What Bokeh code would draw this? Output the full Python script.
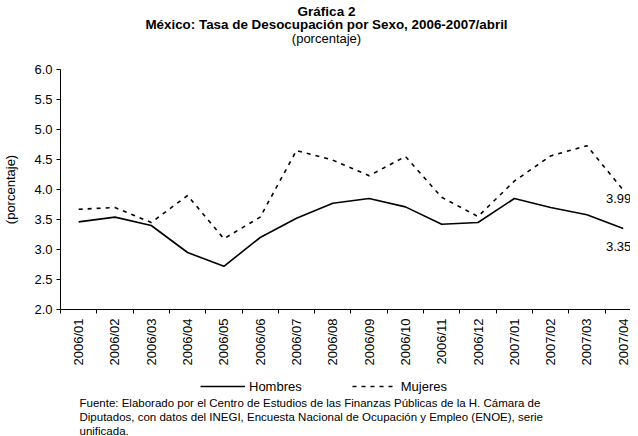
import math
from bokeh.plotting import figure
from bokeh.layouts import column
from bokeh.models import (FixedTicker, PrintfTickFormatter, Label, Legend, LegendItem,
                          ColumnDataSource, Range1d)
from bokeh.embed import file_html
from bokeh.resources import INLINE
from bokeh.core.properties import value

periodos = ["2006/01", "2006/02", "2006/03", "2006/04", "2006/05", "2006/06",
            "2006/07", "2006/08", "2006/09", "2006/10", "2006/11", "2006/12",
            "2007/01", "2007/02", "2007/03", "2007/04"]
hombres = [3.46, 3.54, 3.40, 2.95, 2.72, 3.20, 3.52, 3.77, 3.85, 3.71, 3.42, 3.45,
           3.85, 3.70, 3.58, 3.35]
mujeres = [3.67, 3.70, 3.45, 3.90, 3.18, 3.54, 4.65, 4.49, 4.23, 4.55, 3.87, 3.55,
           4.14, 4.56, 4.73, 3.99]
y_ticks = [2.0, 2.5, 3.0, 3.5, 4.0, 4.5, 5.0, 5.5, 6.0]

titulo1 = "Gráfica 2"
titulo2 = "México: Tasa de Desocupación por Sexo, 2006-2007/abril"
titulo3 = "(porcentaje)"
eje_y = "(porcentaje)"
series = ["Hombres", "Mujeres"]
fuente = ["Fuente: Elaborado por el Centro de Estudios de las Finanzas Públicas  de la H. Cámara de",
          "Diputados, con datos del INEGI, Encuesta Nacional de Ocupación y Empleo (ENOE), serie",
          "unificada."]

FONT = "Liberation Sans"
W = 630
FL = 55  # frame left (frames are aligned across the column)
idx = list(range(len(periodos)))
src = ColumnDataSource(dict(x=idx, h=hombres, m=mujeres))


def blank(height, yr=None):
    f = figure(width=W, height=height, output_backend="svg", toolbar_location=None,
               x_axis_location=None, y_axis_location=None, min_border=0,
               x_range=Range1d(0, W), y_range=yr or Range1d(0, height))
    f.outline_line_color = None
    f.grid.visible = False
    return f


def label(f, txt, cx, y, size, bold=False, align="center"):
    f.add_layout(Label(x=cx - FL, y=y, x_units="screen", y_units="screen", text=txt,
                       text_align=align, text_baseline="middle", text_font=FONT,
                       text_font_size=size, text_font_style="bold" if bold else "normal",
                       text_color="black"))


# ---- titles
HT = 61
top = blank(HT)
label(top, titulo1, 321, HT - 11, "13.5px", bold=True)
label(top, titulo2, 321, HT - 24, "13.4px", bold=True)
label(top, titulo3, 321, HT - 38, "13px")

# ---- main chart
p = figure(width=W, height=307, output_backend="svg", toolbar_location=None,
           x_range=Range1d(-0.5, 15.2), y_range=Range1d(2.0, 6.0),
           min_border_left=FL, min_border_right=0, min_border_top=8, min_border_bottom=59)
p.outline_line_color = None
p.grid.visible = False

p.line("x", "h", source=src, line_color="black", line_width=1.6)
p.line("x", "m", source=src, line_color="black", line_width=1.6, line_dash="4 5")

last = len(periodos) - 1
p.text(x=[last], y=[mujeres[-1]], text=["%.2f" % mujeres[-1]], text_align="right",
       text_baseline="middle", x_offset=8, y_offset=8, text_font=value(FONT),
       text_font_size="13px", text_color="black")
p.text(x=[last], y=[hombres[-1]], text=["%.2f" % hombres[-1]], text_align="right",
       text_baseline="middle", x_offset=8, y_offset=18, text_font=value(FONT),
       text_font_size="13px", text_color="black")

xa = p.xaxis[0]
xa.ticker = FixedTicker(ticks=idx, minor_ticks=[i - 0.5 for i in range(len(periodos) + 1)])
xa.major_label_overrides = {i: s for i, s in zip(idx, periodos)}
xa.major_label_orientation = math.pi / 2
xa.major_tick_line_color = None
xa.major_tick_out = 4
xa.major_tick_in = 0
xa.minor_tick_out = 4
xa.minor_tick_in = 0
xa.minor_tick_line_color = "black"
xa.major_label_standoff = 5
xa.major_label_text_font = FONT
xa.major_label_text_font_size = "13px"
xa.major_label_text_color = "black"
xa.axis_line_color = "black"

ya = p.yaxis[0]
ya.ticker = FixedTicker(ticks=y_ticks, minor_ticks=[])
ya.formatter = PrintfTickFormatter(format="%.1f")
ya.major_tick_out = 4
ya.major_tick_in = 0
ya.major_tick_line_color = "black"
ya.minor_tick_line_color = None
ya.major_label_standoff = 4
ya.major_label_text_font = FONT
ya.major_label_text_font_size = "13px"
ya.major_label_text_color = "black"
ya.axis_line_color = "black"
ya.axis_label = eje_y
ya.axis_label_text_font = FONT
ya.axis_label_text_font_size = "13px"
ya.axis_label_text_font_style = "normal"
ya.axis_label_text_color = "black"
ya.axis_label_standoff = 13

# ---- legend + source note (series drawn out of view, only for the legend keys)
HB = 68
bot = blank(HB, yr=Range1d(50, 50 + HB))
lh = bot.line("x", "h", source=src, line_color="black", line_width=1.6)
lm = bot.line("x", "m", source=src, line_color="black", line_width=1.6, line_dash="4 5")
legend = Legend(items=[LegendItem(label=series[0], renderers=[lh]),
                       LegendItem(label=series[1], renderers=[lm])],
                orientation="horizontal", location=(195 - FL, HB - 26),
                glyph_width=45, glyph_height=16, label_standoff=4, spacing=50,
                padding=0, margin=0, border_line_color=None, background_fill_alpha=0,
                label_text_font=FONT, label_text_font_size="13px", label_text_color="black",
                label_height=16)
bot.add_layout(legend)
for k, line in enumerate(fuente):
    label(bot, line, 74, HB - 34 - 14 * k, "11.5px", align="left")

layout = column(top, p, bot, spacing=0)
open("out.html", "w").write(file_html(layout, INLINE))
